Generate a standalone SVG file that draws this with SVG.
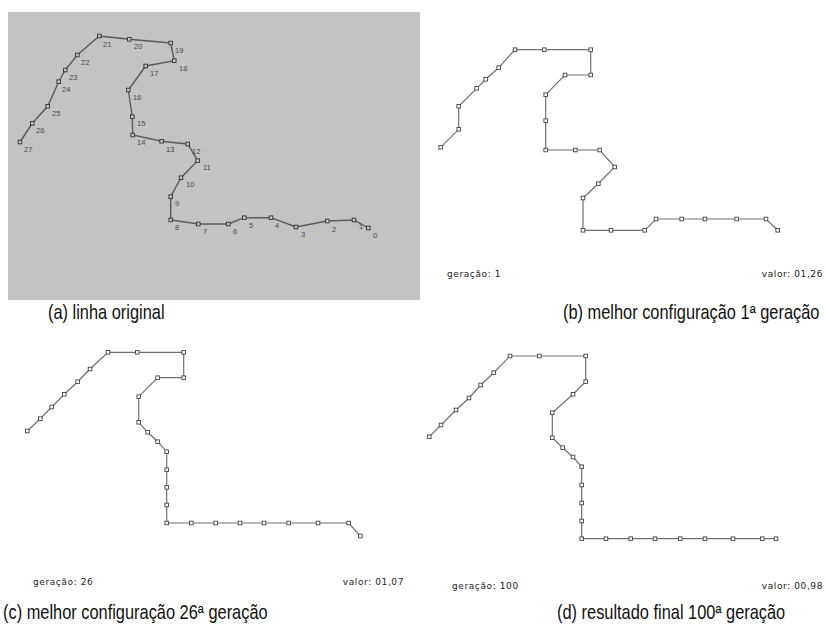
<svg xmlns="http://www.w3.org/2000/svg" width="826" height="631" viewBox="0 0 826 631">
<style>
.bg{fill:#fff}
.panelA{fill:#c3c3c3}
.lnA{fill:none;stroke:#5a5a5a;stroke-width:1.4;marker-start:url(#mkA);marker-mid:url(#mkA);marker-end:url(#mkA)}
.ln{fill:none;stroke:#707070;stroke-width:1.2;marker-start:url(#mk);marker-mid:url(#mk);marker-end:url(#mk)}
.num{font-family:"Liberation Sans",Arial,sans-serif;font-size:7.5px;fill:#4a4a4a}
.small{font-family:"DejaVu Sans","Liberation Sans",sans-serif;font-size:9px;fill:#222;letter-spacing:0.6px}
.cap{font-family:"Liberation Sans",Arial,sans-serif;font-size:20px;fill:#111}
</style>
<defs>
<marker id="mk" markerUnits="userSpaceOnUse" markerWidth="6" markerHeight="6" refX="3" refY="3" viewBox="0 0 6 6">
<rect x="1.2" y="1.2" width="3.6" height="3.6" fill="#fff" stroke="#444" stroke-width="0.9"/>
</marker>
<marker id="mkA" markerUnits="userSpaceOnUse" markerWidth="6" markerHeight="6" refX="3" refY="3" viewBox="0 0 6 6">
<rect x="1.2" y="1.2" width="3.6" height="3.6" fill="#c3c3c3" stroke="#333" stroke-width="0.9"/>
</marker>
</defs>
<rect class="bg" x="0" y="0" width="826" height="631"/>

<g id="panel-a">
<rect class="panelA" x="8" y="12" width="412" height="288"/>
<g id="connectors-a">
<polyline class="lnA" points="20,142 32.3,123.3 47.7,106.3 58.7,81.7 65.3,70 77.3,55 99.3,36 129.3,39.3 170.7,43 174.3,60.7 145.7,66 128.3,90 132.3,116.7 132.7,135 161.7,141.3 187.7,144 197.7,160.7 181,177.7 170.7,196.7 170.7,220 198.3,224 228.3,224 244.3,217.7 271,217.7 296,227 327.3,221 354,220 368.3,228"/>
</g>
<g id="labels-a">
<text class="num" x="24" y="152">27</text>
<text class="num" x="36" y="133">26</text>
<text class="num" x="52" y="116">25</text>
<text class="num" x="62" y="92">24</text>
<text class="num" x="69" y="80">23</text>
<text class="num" x="81" y="65">22</text>
<text class="num" x="103" y="47">21</text>
<text class="num" x="134" y="49">20</text>
<text class="num" x="175" y="53">19</text>
<text class="num" x="179" y="71">18</text>
<text class="num" x="150" y="76">17</text>
<text class="num" x="133" y="100">16</text>
<text class="num" x="137" y="126">15</text>
<text class="num" x="137" y="145">14</text>
<text class="num" x="166" y="152">13</text>
<text class="num" x="192" y="154">12</text>
<text class="num" x="203" y="170">11</text>
<text class="num" x="186" y="187">10</text>
<text class="num" x="175" y="206">9</text>
<text class="num" x="175" y="230">8</text>
<text class="num" x="203" y="234">7</text>
<text class="num" x="233" y="234">6</text>
<text class="num" x="249" y="228">5</text>
<text class="num" x="275" y="228">4</text>
<text class="num" x="301" y="237">3</text>
<text class="num" x="332" y="232">2</text>
<text class="num" x="359" y="229">1</text>
<text class="num" x="373" y="238">0</text>
</g>
</g>

<g id="panel-b">
<polyline class="ln" points="440.7,147.3 458.7,129.3 458.7,106.3 476.7,88.3 485.7,79.3 498.7,67.7 515,49.7 544.3,49.7 590.7,49.7 590.7,75 565,75 545.7,94.7 545.7,120.7 545.7,150 575.3,150 599.7,150 614.7,167 598.3,183.7 583,198 583,230.3 611,230.3 644.7,230.3 656,219 681.7,219 705,219 736.7,219 766,219 777.7,230.3"/>
<text class="small" x="447" y="277">geração: 1</text>
<text class="small" x="823" y="277" text-anchor="end">valor: 01,26</text>
</g>

<g id="panel-c">
<polyline class="ln" points="27.3,431 40.3,418.7 51.7,407 64.3,394.3 77.7,381.7 90,369 108,352.3 137.3,352.3 183.7,352.3 183.7,377.7 157.7,377.7 138.7,396.7 138.7,422.3 147.7,432.3 157.7,441.7 166.7,451.7 166.7,469.7 166.7,487.3 166.7,505 166.7,523 191.3,523 215.7,523 240,523 264,523 288.7,523 318,523 348.7,523 360.3,536"/>
<text class="small" x="33" y="585">geração: 26</text>
<text class="small" x="404" y="585" text-anchor="end">valor: 01,07</text>
</g>

<g id="panel-d">
<polyline class="ln" points="429.3,436.7 441,425 456,410 469,398 480.7,385 493.7,372.7 510,356 539.3,356 585.7,356 585.7,381.7 573,394.3 552.3,412.7 552.3,437.7 562.7,447.7 573,457 581.7,466.7 581.7,485 581.7,503 581.7,521 581.7,538.7 606,538.7 630.7,538.7 655,538.7 680.3,538.7 705,538.7 733,538.7 762.3,538.7 776,538.7"/>
<text class="small" x="452" y="589">geração: 100</text>
<text class="small" x="823" y="589" text-anchor="end">valor: 00,98</text>
</g>

<g id="captions">
<text class="cap" transform="translate(48,319) scale(0.82,1)">(a) linha original</text>
<text class="cap" transform="translate(563,319) scale(0.82,1)">(b) melhor configuração 1ª geração</text>
<text class="cap" transform="translate(3,619) scale(0.82,1)">(c) melhor configuração 26ª geração</text>
<text class="cap" transform="translate(557,619) scale(0.82,1)">(d) resultado final 100ª geração</text>
</g>
</svg>
